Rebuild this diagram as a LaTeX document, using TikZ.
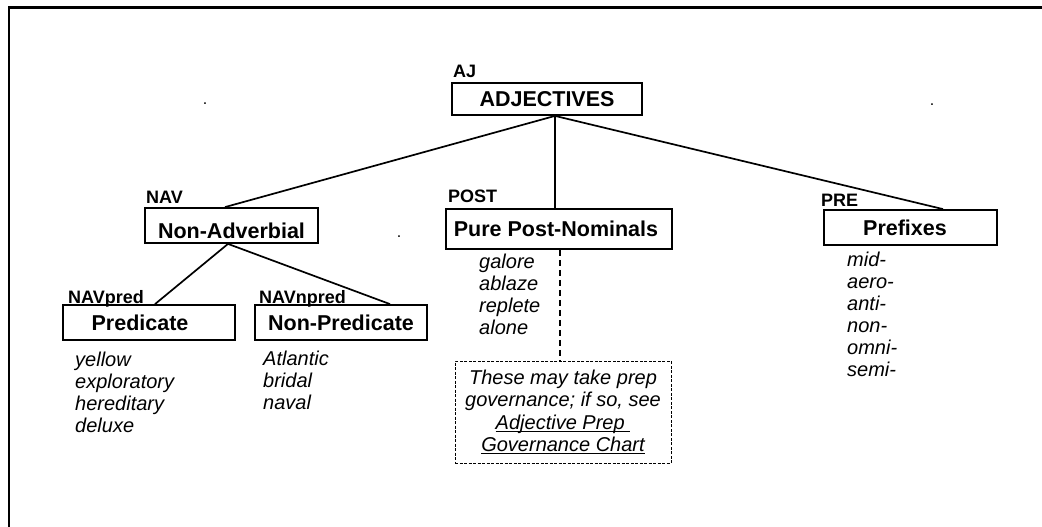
\documentclass[tikz,border=0pt]{standalone}
\usepackage{fontspec}
\setmainfont{Liberation Sans}
% underline set at a fixed depth below the baseline
\newcommand\ulinetext[1]{\setbox0\hbox{#1}\rlap{\rule[-2.6pt]{\wd0}{1pt}}\box0}
\begin{document}
\begin{tikzpicture}[x=1pt,y=-1pt,
  catbox/.style={draw, line width=1.8pt, inner sep=0pt,
    font=\bfseries\fontsize{21.5}{24}\selectfont, text height=15.5pt, text depth=0pt},
  tag/.style={anchor=base west, inner sep=0pt, font=\bfseries\fontsize{18}{20}\selectfont},
  % word lists: placed by the baseline of their last line
  words/.style={anchor=base west, inner sep=0pt, align=left,
    font=\itshape\fontsize{20}{22}\selectfont},
  branch/.style={line width=1.7pt},
  notebox/.style={draw, line width=1pt, dash pattern=on 3pt off 1.5pt, inner sep=0pt,
    align=center, font=\itshape\fontsize{20}{22.3}\selectfont},
  noteline/.style={line width=1.8pt, dash pattern=on 6pt off 4pt},
  speck/.style={anchor=base, inner sep=0pt, font=\fontsize{16}{18}\selectfont}
]
\useasboundingbox (0,0) rectangle (1042,527);

% page frame
\draw[line width=2.4pt] (9,527) -- (9,7.5) -- (1042,7.5);

% category boxes
\node[catbox, minimum width=190pt, minimum height=32pt] (adj) at (547,99) {ADJECTIVES};
\node[catbox, minimum width=173pt, minimum height=35pt, text height=26.5pt] (nav) at (231.5,225.5) {Non-Adverbial};
\node[catbox, minimum width=226pt, minimum height=40pt] (post) at (559,229) {Pure Post-Nominals\hspace*{6pt}};
\node[catbox, minimum width=173pt, minimum height=35pt] (pre) at (910.5,227.5) {Prefixes\hspace*{11pt}};
\node[catbox, minimum width=172pt, minimum height=35pt] (pred) at (149,322.5) {Predicate\hspace*{18pt}};
\node[catbox, minimum width=172pt, minimum height=35pt] (npred) at (341,322.5) {Non-Predicate};

% code labels
\node[tag] (ajtag) at (453,77.5) {AJ};
\node[tag] (navtag) at (146,203) {NAV};
\node[tag] (posttag) at (448,202) {POST};
\node[tag] (pretag) at (821,206) {PRE};
\node[tag] (predtag) at (68,303) {NAVpred};
\node[tag] (npredtag) at (259,303) {NAVnpred};

% tree branches
\draw[branch] ([xshift=8pt]adj.south) -- ([xshift=-6.5pt]nav.north);
\draw[branch] ([xshift=8pt]adj.south) -- ([xshift=-4pt]post.north);
\draw[branch] ([xshift=8pt]adj.south) -- ([xshift=32.5pt]pre.north);
\draw[branch] ([xshift=-3.5pt]nav.south) -- ([xshift=6pt]pred.north);
\draw[branch] ([xshift=-3.5pt]nav.south) -- ([xshift=49pt]npred.north);

% example words
\node[words] (predwords) at (75,432) {yellow\\exploratory\\hereditary\\deluxe};
\node[words] (npredwords) at (263,409) {Atlantic\\bridal\\naval};
\node[words] (postwords) at (479,334) {galore\\ablaze\\replete\\alone};
\node[words] (prewords) at (847,376) {mid-\\aero-\\anti-\\non-\\omni-\\semi-};

% cross-reference note
\node[notebox, minimum width=216pt, minimum height=102pt] (note) at (563,412)
  {These may take prep\\governance; if so, see\\\ulinetext{Adjective Prep\ }\\\ulinetext{Governance Chart}};
\draw[noteline] ([xshift=1pt]post.south) -- ([xshift=-3pt]note.north);

% stray full stops
\node[speck] (speckA) at (205,104) {.};
\node[speck] (speckB) at (932,106) {.};
\node[speck] (speckC) at (399,237) {.};
\end{tikzpicture}
\end{document}
